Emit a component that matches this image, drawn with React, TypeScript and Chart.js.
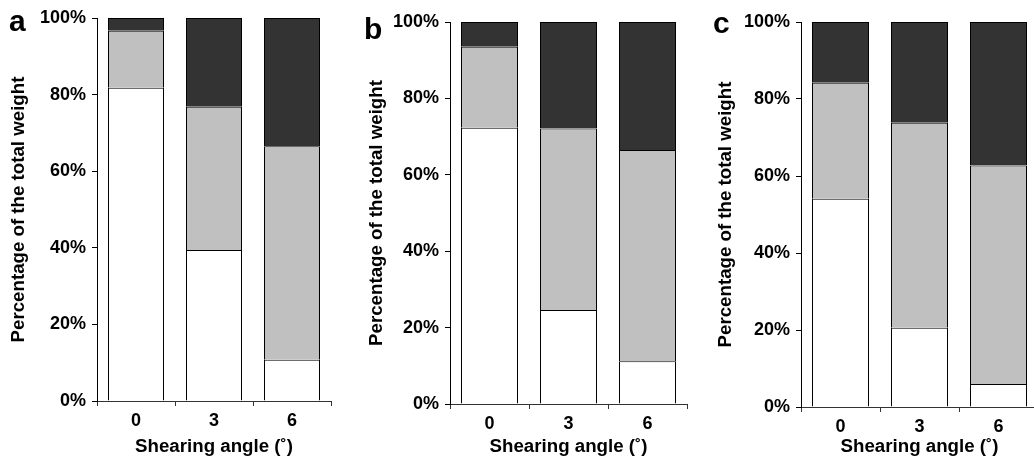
import React, { useEffect, useRef } from "react";
import { Chart, registerables } from "chart.js";

Chart.register(...registerables);

// Shearing angles (degrees) on the x axis
const angles = ["0", "3", "6"];
const yTicks = [0, 20, 40, 60, 80, 100];

// Share of the total weight (%) per fraction, panel a
const whiteA = [81.8, 39.4, 10.8];
const grayA = [14.9, 37.4, 55.7];
const darkA = [3.3, 23.2, 33.5];

// Panel b
const whiteB = [72.3, 24.6, 11.2];
const grayB = [21.2, 47.5, 55.3];
const darkB = [6.5, 27.9, 33.5];

// Panel c
const whiteC = [54.1, 20.6, 6.0];
const grayC = [30.1, 53.2, 56.7];
const darkC = [15.8, 26.2, 37.3];

const FONT = '"Liberation Sans", Arial, Helvetica, sans-serif';
const H = 461;

type Layout = {
  left: number;
  width: number;
  top: number;
  axisX: number;
  bottom: number;
  right: number;
  barPct: number;
  letter: string;
  letterLeft: number;
  letterTop: number;
};

function Panel({
  white,
  gray,
  dark,
  layout,
}: {
  white: number[];
  gray: number[];
  dark: number[];
  layout: Layout;
}) {
  const ref = useRef<HTMLCanvasElement | null>(null);

  useEffect(() => {
    if (!ref.current) return;
    const tickFont = { family: FONT, size: 18, weight: "bold" as const };
    const titleFont = { family: FONT, size: 18.7, weight: "bold" as const };
    // Each segment skips its base edge, so neighbouring segments share one 1px line
    const seg = (data: number[], color: string) => ({
      data,
      backgroundColor: color,
      borderColor: "#000000",
      borderWidth: 1,
      borderSkipped: "start" as const,
      inflateAmount: 0,
      categoryPercentage: 1,
      barPercentage: layout.barPct,
    });
    const chart = new Chart(ref.current, {
      type: "bar",
      data: {
        labels: angles,
        datasets: [seg(white, "#ffffff"), seg(gray, "#c0c0c0"), seg(dark, "#333333")],
      },
      options: {
        animation: false,
        responsive: false,
        devicePixelRatio: 1,
        layout: {
          padding: {
            left: 0,
            top: layout.top,
            right: layout.left + layout.width - layout.right,
            bottom: 0,
          },
        },
        plugins: { legend: { display: false }, tooltip: { enabled: false } },
        scales: {
          x: {
            stacked: true,
            grid: {
              offset: true,
              drawOnChartArea: false,
              drawTicks: true,
              tickLength: 5,
              color: "#333333",
            },
            border: { display: true, color: "#333333", width: 1 },
            ticks: { font: tickFont, color: "#000000", padding: 4, maxRotation: 0 },
            title: {
              display: true,
              text: "Shearing angle (˚)",
              font: titleFont,
              color: "#000000",
              padding: { top: 0, bottom: 3 },
            },
            afterFit: (scale: any) => {
              scale.height = H - layout.bottom;
            },
          },
          y: {
            stacked: true,
            min: 0,
            max: 100,
            afterBuildTicks: (scale: any) => {
              scale.ticks = yTicks.map((v) => ({ value: v }));
            },
            grid: {
              drawOnChartArea: false,
              drawTicks: true,
              tickLength: 5,
              color: "#000000",
            },
            border: { display: true, color: "#000000", width: 1 },
            ticks: {
              font: tickFont,
              color: "#000000",
              padding: 6,
              callback: (v: any) => `${v}%`,
            },
            title: {
              display: true,
              text: "Percentage of the total weight",
              font: titleFont,
              color: "#000000",
              padding: { top: 7.6, bottom: 0 },
            },
            afterFit: (scale: any) => {
              scale.width = layout.axisX - layout.left;
            },
          },
        },
      },
    });
    return () => chart.destroy();
  }, [white, gray, dark, layout]);

  return (
    <>
      <canvas
        ref={ref}
        width={layout.width}
        height={H}
        style={{ position: "absolute", left: layout.left, top: 0, width: layout.width, height: H }}
      />
      <div
        style={{
          position: "absolute",
          left: layout.letterLeft,
          top: layout.letterTop,
          font: `bold 30px ${FONT}`,
          lineHeight: "30px",
          color: "#000",
        }}
      >
        {layout.letter}
      </div>
    </>
  );
}

const layoutA: Layout = {
  left: 0, width: 344, top: 18, axisX: 97, bottom: 401, right: 331, barPct: 56 / 78,
  letter: "a", letterLeft: 9, letterTop: 6,
};
const layoutB: Layout = {
  left: 358, width: 342, top: 22, axisX: 450, bottom: 404, right: 687, barPct: 57 / 79,
  letter: "b", letterLeft: 364, letterTop: 14,
};
const layoutC: Layout = {
  left: 707, width: 344, top: 22, axisX: 801, bottom: 407, right: 1038, barPct: 57 / 79,
  letter: "c", letterLeft: 713, letterTop: 8,
};

export default function App() {
  return (
    <div
      style={{
        position: "fixed",
        left: 0,
        top: 0,
        width: 1034,
        height: H,
        overflow: "hidden",
        background: "#ffffff",
      }}
    >
      <Panel white={whiteA} gray={grayA} dark={darkA} layout={layoutA} />
      <Panel white={whiteB} gray={grayB} dark={darkB} layout={layoutB} />
      <Panel white={whiteC} gray={grayC} dark={darkC} layout={layoutC} />
    </div>
  );
}
